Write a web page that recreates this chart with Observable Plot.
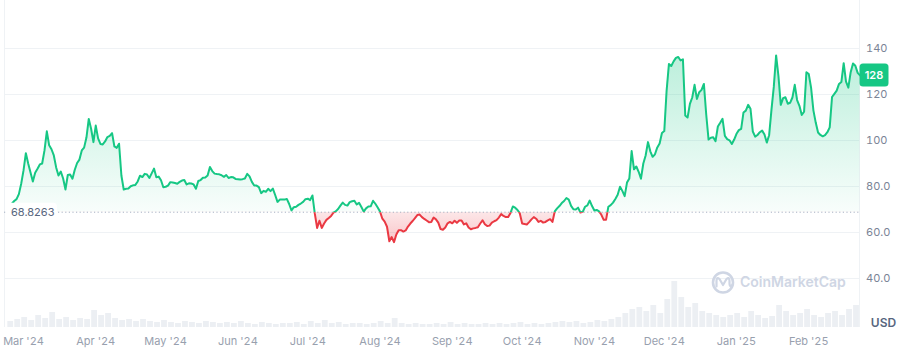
<!DOCTYPE html>
<html>
<head>
<meta charset="utf-8">
<script src="https://cdn.jsdelivr.net/npm/d3@7"></script>
<script src="https://cdn.jsdelivr.net/npm/@observablehq/plot@0.6"></script>
<style>
  html, body { margin: 0; padding: 0; background: #ffffff; }
  #chart { width: 900px; height: 361px; }
  svg { font-family: Inter, "Noto Sans", sans-serif; }
</style>
</head>
<body>
<div id="chart"></div>
<script>
// ---------- DATA ----------
const startDate = "2024-02-23";          // first daily close
const baseline = 68.8263;                // opening price of the period
const currency = "USD";
const prices = [
  68.8263, 71.1, 72.5, 73.7, 74.5, 76.7, 81.2, 87.0, 94.5, 90.0,
  86.1, 82.2, 86.0, 87.7, 89.6, 90.0, 95.7, 104.0, 97.9, 96.2,
  93.5, 88.3, 84.8, 86.5, 83.5, 78.7, 85.0, 85.2, 83.4, 87.3,
  90.2, 91.7, 95.7, 96.9, 101.3, 109.4, 105.1, 99.3, 106.5, 100.9,
  98.5, 98.3, 99.6, 101.5, 102.0, 103.2, 97.4, 96.8, 98.6, 84.8,
  78.7, 79.0, 79.1, 80.1, 80.5, 80.7, 82.2, 84.7, 84.1, 85.5,
  85.2, 83.7, 85.7, 87.8, 84.0, 84.3, 82.7, 79.7, 79.9, 80.4,
  81.9, 81.7, 81.5, 81.2, 82.0, 82.6, 82.8, 80.9, 81.4, 81.3,
  80.9, 79.0, 82.4, 82.8, 83.8, 83.9, 84.8, 88.5, 86.7, 85.6,
  85.4, 85.3, 84.9, 84.2, 85.0, 83.7, 84.1, 84.0, 83.3, 83.2,
  83.0, 83.2, 83.5, 85.5, 84.4, 82.0, 80.4, 80.4, 79.7, 77.1,
  78.1, 77.7, 79.0, 78.0, 79.1, 76.3, 73.3, 74.3, 74.4, 74.3,
  74.6, 72.4, 69.6, 71.0, 71.2, 72.0, 72.6, 73.3, 74.5, 74.7,
  74.1, 76.1, 68.3, 62.0, 65.1, 62.0, 63.9, 65.5, 66.3, 67.2,
  68.6, 69.2, 70.2, 71.7, 73.0, 72.0, 71.7, 73.2, 73.6, 73.8,
  72.2, 72.9, 71.1, 69.1, 70.5, 71.3, 71.4, 73.8, 72.5, 70.9,
  69.1, 66.0, 64.7, 62.5, 56.2, 58.0, 55.8, 59.1, 61.0, 61.0,
  60.4, 60.9, 62.6, 63.9, 65.0, 66.3, 67.6, 67.8, 66.7, 65.9,
  65.2, 64.5, 64.6, 66.5, 65.7, 64.3, 61.5, 61.2, 62.2, 64.0,
  64.6, 64.0, 65.1, 64.2, 65.2, 65.2, 63.5, 64.0, 62.2, 61.4,
  61.8, 62.0, 62.3, 63.9, 65.3, 63.6, 62.8, 63.0, 64.3, 64.9,
  65.4, 66.5, 68.0, 67.2, 66.7, 66.7, 68.5, 71.3, 70.8, 69.8,
  68.3, 63.9, 63.7, 63.5, 64.5, 65.7, 66.7, 66.0, 64.6, 65.1,
  64.3, 64.6, 65.3, 65.8, 64.6, 69.2, 70.5, 71.5, 72.8, 73.7,
  75.0, 74.3, 71.6, 70.1, 70.0, 70.8, 68.7, 69.0, 71.2, 71.8,
  73.9, 71.5, 69.6, 69.8, 69.2, 67.7, 65.5, 65.5, 71.2, 71.9,
  73.0, 74.6, 76.4, 79.9, 78.1, 75.8, 81.7, 83.5, 95.4, 87.5,
  88.7, 86.4, 83.4, 90.0, 93.5, 99.3, 95.3, 92.9, 94.0, 97.0,
  98.7, 103.3, 104.1, 121.7, 133.3, 132.4, 134.4, 135.9, 136.3, 134.8,
  135.3, 110.9, 110.0, 115.9, 118.7, 124.2, 118.1, 121.0, 122.0, 124.6,
  111.3, 100.4, 101.2, 101.4, 99.7, 106.1, 107.7, 109.4, 102.0, 100.6,
  100.1, 98.5, 100.4, 102.9, 104.5, 105.1, 112.2, 113.0, 115.5, 113.8,
  103.9, 101.7, 102.4, 103.6, 104.3, 102.6, 99.1, 102.3, 113.3, 123.3,
  137.0, 128.0, 115.5, 118.4, 118.8, 116.0, 116.4, 118.7, 124.2, 117.6,
  115.1, 111.1, 112.5, 129.7, 128.9, 123.0, 113.1, 107.8, 103.5, 102.4,
  101.8, 102.3, 103.6, 105.7, 118.9, 120.3, 121.7, 124.6, 125.4, 133.6,
  125.6, 123.0, 129.7, 133.5, 132.5, 129.4, 128.3
];
// relative trading volume, one value per 3-day bucket starting at startDate
const volumeBucketDays = 3;
const volumes = [
  6, 8, 10, 7, 12, 9, 15, 8, 10, 7,
  9, 8, 17, 12, 14, 9, 7, 8, 6, 8,
  6, 5, 7, 5, 4, 6, 5, 4, 6, 5,
  4, 5, 4, 6, 4, 3, 5, 4, 3, 4,
  4, 5, 3, 6, 4, 7, 4, 5, 3, 4,
  4, 3, 4, 6, 4, 9, 4, 3, 4, 3,
  3, 4, 3, 5, 3, 4, 3, 3, 4, 3,
  4, 3, 4, 5, 3, 4, 3, 4, 5, 6,
  5, 6, 4, 5, 7, 6, 8, 10, 14, 18,
  20, 16, 22, 14, 28, 46, 30, 20, 24, 16,
  14, 12, 10, 12, 14, 10, 16, 12, 9, 11,
  22, 16, 12, 14, 18, 12, 10, 14, 16, 12,
  18, 22, 20
];
const monthTicks = ["2024-03-01","2024-04-01","2024-05-01","2024-06-01","2024-07-01","2024-08-01",
                    "2024-09-01","2024-10-01","2024-11-01","2024-12-01","2025-01-01","2025-02-01"];
const priceTicks = [40, 60, 80, 100, 120, 140];

// ---------- BUILD ----------
const t0 = new Date(startDate + "T00:00:00Z");
const series = prices.map((p, i) => ({date: d3.utcDay.offset(t0, i), price: p}));
const xDomain = [new Date("2024-02-21T20:00:00Z"), new Date("2025-02-23T00:00:00Z")];
const yMin = 18.7, yMax = 160.87;
const volUnit = 0.4348; // price-axis units per volume unit (volume pane at the bottom)
const vol = volumes.map((v, i) => {
  const a = d3.utcDay.offset(t0, i * volumeBucketDays);
  let b = d3.utcDay.offset(a, volumeBucketDays);
  if (b > xDomain[1]) b = xDomain[1];
  return {x1: a, x2: b, v};
});

const upColor = "#16c784", downColor = "#ea3943";

const chart = Plot.plot({
  width: 900,
  height: 361,
  marginTop: 0,
  marginBottom: 34,
  marginLeft: 4,
  marginRight: 40.5,
  style: {fontFamily: "Inter, 'Noto Sans', sans-serif", fontSize: "11px", background: "transparent", color: "#58667e"},
  x: {type: "utc", domain: xDomain},
  y: {domain: [yMin, yMax]},
  marks: [
    Plot.rectY(vol, {x1: "x1", x2: "x2", y1: yMin, y2: d => yMin + d.v * volUnit, fill: "#eceff3", insetLeft: 0.6, insetRight: 0.6}),
    Plot.ruleY(priceTicks, {stroke: "#eff2f5", strokeWidth: 1}),
    Plot.areaY(series, {x: "date", y1: baseline, y2: "price", fill: upColor}),
    Plot.areaY(series, {x: "date", y1: baseline, y2: "price", fill: downColor}),
    Plot.ruleY([baseline], {stroke: "#a6b0c3", strokeWidth: 1, strokeDasharray: "1.2,2.4"}),
    Plot.lineY(series, {x: "date", y: "price", stroke: upColor, strokeWidth: 2}),
    Plot.lineY(series, {x: "date", y: "price", stroke: downColor, strokeWidth: 2}),
    Plot.axisX({ticks: monthTicks.map(s => new Date(s + "T00:00:00Z")), tickFormat: d3.utcFormat("%b '%y"), tickSize: 0, tickPadding: 10, label: null}),
    Plot.axisY({anchor: "right", ticks: priceTicks, tickFormat: v => v >= 100 ? String(v) : v.toFixed(1), tickSize: 0, tickPadding: 6, label: null})
  ]
});
document.getElementById("chart").appendChild(chart);

// ---------- DECORATION ----------
const svg = d3.select(chart);
const ys = chart.scale("y"), xs = chart.scale("x");
const by = ys.apply(baseline);
const [xl, xr] = xs.range;
const yb = ys.apply(yMin);

const defs = svg.insert("defs", ":first-child");
const gu = defs.append("linearGradient").attr("id", "gUp").attr("gradientUnits", "userSpaceOnUse")
  .attr("x1", 0).attr("x2", 0).attr("y1", ys.apply(140)).attr("y2", by);
gu.append("stop").attr("offset", 0).attr("stop-color", upColor).attr("stop-opacity", 0.3);
gu.append("stop").attr("offset", 1).attr("stop-color", upColor).attr("stop-opacity", 0.03);
const gd = defs.append("linearGradient").attr("id", "gDown").attr("gradientUnits", "userSpaceOnUse")
  .attr("x1", 0).attr("x2", 0).attr("y1", by).attr("y2", ys.apply(55));
gd.append("stop").attr("offset", 0).attr("stop-color", downColor).attr("stop-opacity", 0.12);
gd.append("stop").attr("offset", 1).attr("stop-color", downColor).attr("stop-opacity", 0.3);
defs.append("clipPath").attr("id", "cUp").append("rect").attr("x", 0).attr("y", -10).attr("width", 900).attr("height", by + 10);
defs.append("clipPath").attr("id", "cDown").append("rect").attr("x", 0).attr("y", by).attr("width", 900).attr("height", 361 - by);

const areas = svg.selectAll('g[aria-label="area"]').nodes();
const lines = svg.selectAll('g[aria-label="line"]').nodes();
if (areas.length >= 2) {
  d3.select(areas[0]).attr("clip-path", "url(#cUp)").attr("fill", "url(#gUp)").selectAll("path").attr("fill", "url(#gUp)");
  d3.select(areas[1]).attr("clip-path", "url(#cDown)").attr("fill", "url(#gDown)").selectAll("path").attr("fill", "url(#gDown)");
}
if (lines.length >= 2) {
  d3.select(lines[0]).attr("clip-path", "url(#cUp)");
  d3.select(lines[1]).attr("clip-path", "url(#cDown)");
}

svg.selectAll('g[aria-label="x-axis tick label"]').attr("fill", "#98a0ae");
svg.selectAll('g[aria-label="y-axis tick label"]').attr("fill", "#7b8496");

// frame borders
const frame = svg.insert("g", "defs + *");
frame.append("line").attr("x1", xl + 0.5).attr("x2", xl + 0.5).attr("y1", 0).attr("y2", yb).attr("stroke", "#eff2f5");
frame.append("line").attr("x1", xr).attr("x2", xr).attr("y1", 0).attr("y2", yb).attr("stroke", "#eff2f5");

// watermark
const wm = svg.append("g").attr("text-anchor", "start");
wm.append("circle").attr("cx", 723).attr("cy", 282.5).attr("r", 10).attr("fill", "none").attr("stroke", "#cfd6e4").attr("stroke-width", 2.6);
wm.append("path").attr("d", "M716.5,286.5 L716.5,281 Q716.5,276.5 719.5,279 L723,285 L726.5,279 Q729.5,276.5 729.5,281 L729.5,283.5 Q729.5,287 731.5,285.5")
  .attr("fill", "none").attr("stroke", "#cfd6e4").attr("stroke-width", 2.2).attr("stroke-linecap", "round").attr("stroke-linejoin", "round");
wm.append("text").attr("x", 740).attr("y", 282.5).attr("dy", "0.35em").attr("font-size", 14).attr("font-weight", 600)
  .attr("text-anchor", "start").attr("fill", "#cfd6e4").text("CoinMarketCap");

// baseline label
const bl = svg.append("g");
bl.append("rect").attr("x", xl + 2).attr("y", by - 9).attr("width", 51).attr("height", 18).attr("rx", 4).attr("fill", "#ffffff");
bl.append("text").attr("x", xl + 7).attr("y", by).attr("dy", "0.35em").attr("text-anchor", "start")
  .attr("font-size", 11).attr("fill", "#58667e").text(baseline.toFixed(4));

// last price badge
const last = prices[prices.length - 1];
const ly = ys.apply(last);
const badge = svg.append("g");
badge.append("rect").attr("x", xr).attr("y", ly - 11.5).attr("width", 29).attr("height", 23).attr("rx", 3.5).attr("fill", upColor);
badge.append("text").attr("x", xr + 14.5).attr("y", ly).attr("dy", "0.35em").attr("text-anchor", "middle")
  .attr("font-size", 11).attr("font-weight", 600).attr("fill", "#ffffff").text(Math.round(last));

// currency label
svg.append("text").attr("x", 883.5).attr("y", 323).attr("dy", "0.35em").attr("text-anchor", "middle")
  .attr("font-size", 12).attr("font-weight", 600).attr("fill", "#58667e").text(currency);
</script>
</body>
</html>
